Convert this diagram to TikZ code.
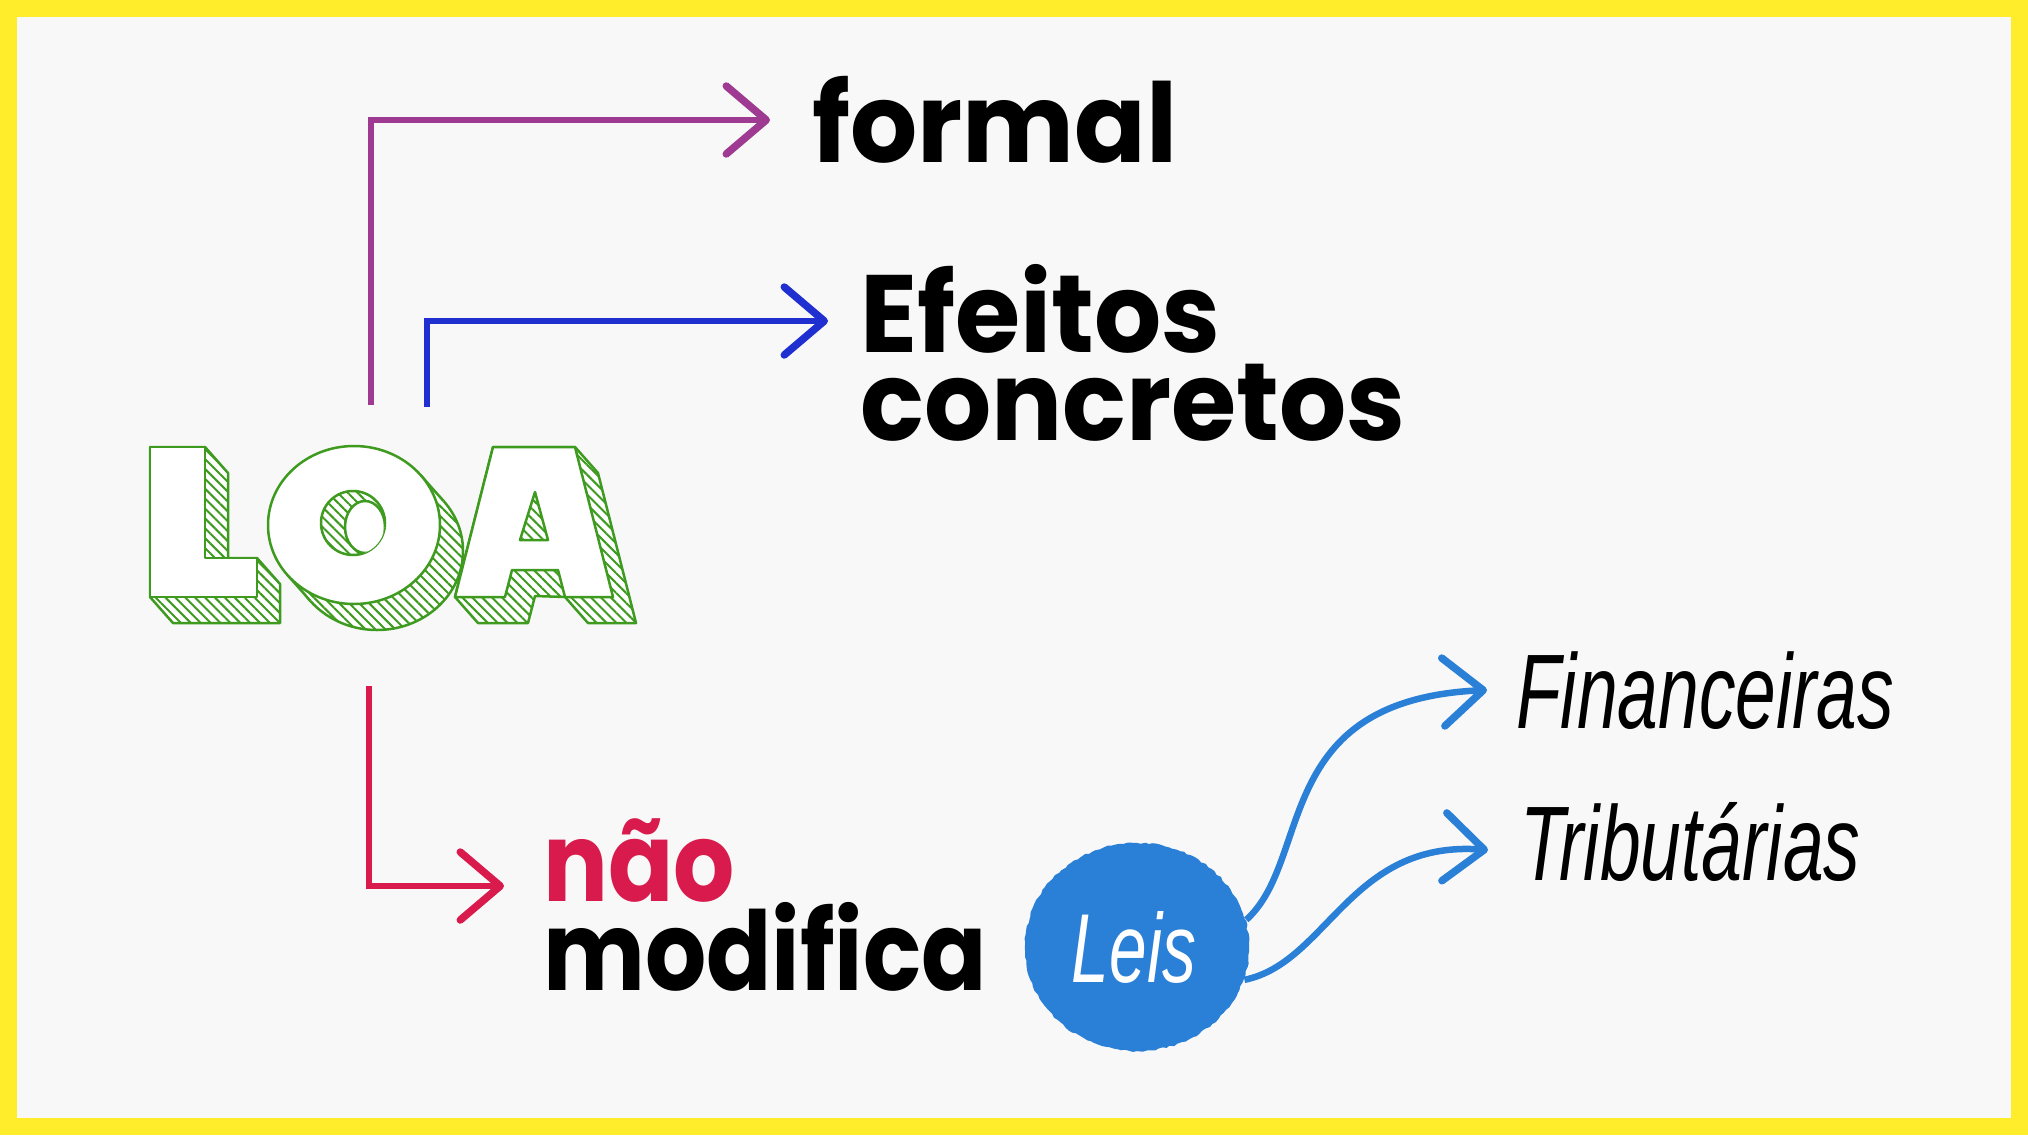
\documentclass[tikz,border=0pt]{standalone}
\usepackage{fontspec}
\usetikzlibrary{arrows.meta,patterns.meta,calc,shapes.geometric,decorations.pathmorphing}
\newfontfamily\dispfont{Poppins Bold}[FakeStretch=0.96]
\newfontfamily\dispnarrow{Poppins Bold}[FakeStretch=0.875]
\newfontfamily\condfont{Liberation Sans Italic}[FakeStretch=0.69]
\definecolor{frameyellow}{HTML}{FFEC2B}
\definecolor{paper}{HTML}{F8F8F8}
\definecolor{lpurple}{HTML}{9E3A92}
\definecolor{lblue}{HTML}{1F2FD0}
\definecolor{lred}{HTML}{D81B4C}
\definecolor{lsky}{HTML}{2A80D6}
\definecolor{lgreen}{HTML}{3E9B1F}
\tikzset{
  conn/.style={line width=6.5pt, line join=miter,
    -{Straight Barb[length=40pt,width=68pt,line width=7.5pt,round]}},
  disptext/.style={anchor=base west, inner sep=0pt, text=black,
    font=\dispfont\fontsize{110}{120}\selectfont},
  twoline/.style={anchor=base west, inner sep=0pt, text=black,
    text width=700pt, align=left},
  labeltext/.style={anchor=base west, inner sep=0pt, text=black,
    font=\condfont\fontsize{106}{120}\selectfont},
  hatchfill/.style={preaction={fill=white},
    pattern={Lines[angle=-45,distance=7pt,line width=2pt]}, pattern color=lgreen},
  hatch/.style={hatchfill, draw=lgreen, line width=2.5pt, line join=round},
  face/.style={fill=white, draw=lgreen, line width=2.5pt, line join=round},
  leisblob/.style={ellipse, minimum width=226pt, minimum height=208pt,
    inner sep=0pt, text=white, font=\condfont\fontsize{98}{100}\selectfont}
}
\pgfmathsetseed{7}
\begin{document}
\begin{tikzpicture}[x=1pt,y=-1pt]
\fill[frameyellow] (0,0) rectangle (2028,1135);
\fill[paper] (17,17) rectangle (2011,1118);
\useasboundingbox (0,0) rectangle (2028,1135);

% ---- LOA block letters ----
% L
\path[hatch] (150,447) -- (205,447) -- (228,473) -- (228,558) -- (257,558) -- (280,584)
  -- (280,623) -- (173,623) -- (150,597) -- cycle;
\path[face] (150,447) -- (205,447) -- (205,558) -- (257,558) -- (257,597) -- (150,597) -- cycle;
% O
\path[hatch] (377,551) ellipse [x radius=86, y radius=79];
\path[hatchfill] (420.7,475.2) -- (443.7,501.2) -- (310.3,600.8) -- (287.3,574.8) -- cycle;
\draw[lgreen, line width=2.5pt] (420.7,475.2) -- (443.7,501.2) (287.3,574.8) -- (310.3,600.8);
\path[face] (354,525) ellipse [x radius=86, y radius=79];
\path[hatch] (353,523) ellipse [x radius=32, y radius=32];
\begin{scope}
  \clip (353,523) ellipse [x radius=32, y radius=32];
  \path[face] (365,527) ellipse [x radius=20, y radius=26];
\end{scope}
% A
\path[hatch] (493,447) -- (575,447) -- (598,473) -- (636,623) -- (588,623) -- (565,597)
  -- (535,596) -- (528,623) -- (478,623) -- (455,597) -- cycle;
\path[face] (493,447) -- (575,447) -- (613,597) -- (565,597) -- (558,570) -- (512,570)
  -- (505,597) -- (455,597) -- cycle;
\path[hatch] (535,492) -- (520,540) -- (548,540) -- cycle;

% ---- Leis blob ----
\fill[lsky, decorate, decoration={random steps, segment length=4pt, amplitude=0.9pt}]
  (1137,947) ellipse [x radius=112, y radius=104];

% ---- text nodes ----
\node[disptext] (formal) at (812,162) {formal};
\node[twoline, font=\dispfont\fontsize{110}{88}\selectfont] (efconc) at (860,352)
  {Efeitos\\concretos};
\node[twoline, font=\dispnarrow\fontsize{110}{89}\selectfont] (naomod) at (543,901)
  {\textcolor{lred}{não}\\modifica};
\node[leisblob] (leis) at (1137,947) {\hspace*{-6pt}Leis};
\node[labeltext] (fin) at (1516,728) {Financeiras};
\node[labeltext] (trib) at (1520,880) {Tributárias};

% ---- connectors ----
\coordinate (pA) at (371,405);
\coordinate (bA) at (427,407);
\coordinate (rA) at (369,686);
\draw[conn, lpurple] (pA) |- ($(formal.base west)+(-42,-42)$);
\draw[conn, lblue] (bA) |- ($(efconc.base west)+(-32,-31)$);
\draw[conn, lred, line width=5.5pt] (rA) |- ($(naomod.base west)+(-39,-15)$);
\draw[conn, lsky] (leis.14) .. controls +(67,-60) and +(-217,10) .. ($(fin.base west)+(-29,-38)$);
\draw[conn, lsky] (leis.-17) .. controls +(83,-17) and +(-138,-10) .. ($(trib.base west)+(-32,-30)$);
\end{tikzpicture}
\end{document}
